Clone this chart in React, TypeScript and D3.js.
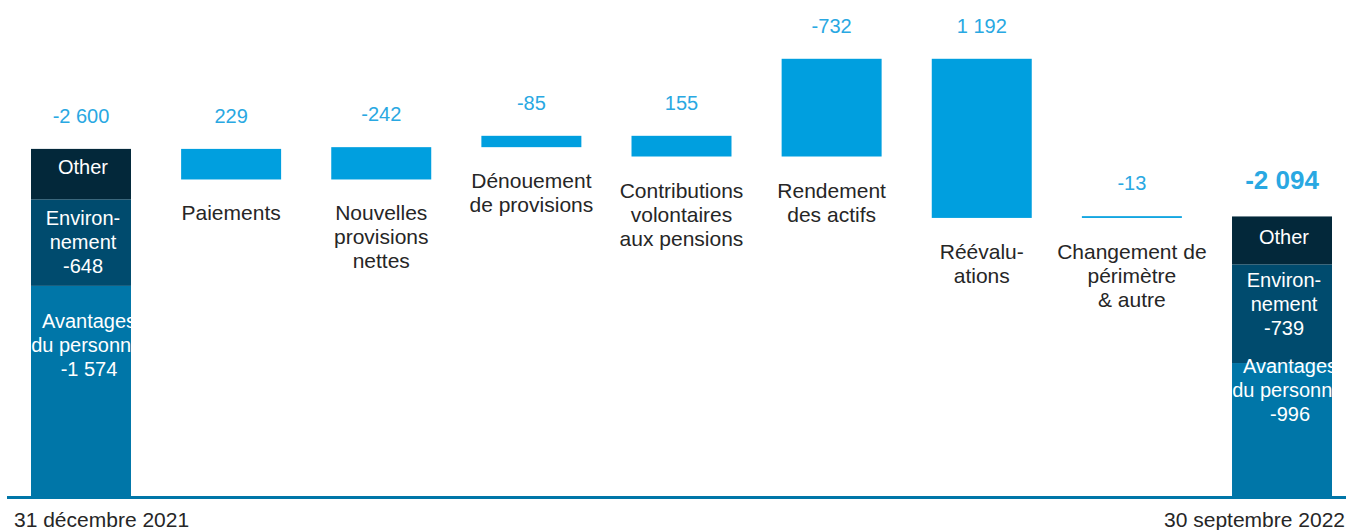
import React from "react";
import * as d3 from "d3";

const categories = [
  "31 décembre 2021",
  "Paiements",
  "Nouvelles provisions nettes",
  "Dénouement de provisions",
  "Contributions volontaires aux pensions",
  "Rendement des actifs",
  "Réévaluations",
  "Changement de périmètre & autre",
  "30 septembre 2022",
];
const categoryLines = [
  ["31 décembre 2021"],
  ["Paiements"],
  ["Nouvelles", "provisions", "nettes"],
  ["Dénouement", "de provisions"],
  ["Contributions", "volontaires", "aux pensions"],
  ["Rendement", "des actifs"],
  ["Réévalu-", "ations"],
  ["Changement de", "périmètre", "& autre"],
  ["30 septembre 2022"],
];
// stacked totals, bottom to top
const stackKeys = ["avantages", "environnement", "other"];
const stackLines = [["Avantages", "du personnel"], ["Environ-", "nement"], ["Other"]];
const startStack = [1574, 648, 378];
const endStack = [996, 739, 359];
// changes (positive reduces the liability)
const deltas = [229, -242, -85, 155, -732, 1192, -13];

const W = 1346;
const H = 530;
const FONT = "'Liberation Sans', Arial, Helvetica, sans-serif";
const C_BAR = "#009fdf";
const C_LABEL = "#29a8e2";
const C_TEXT = "#262626";
const C_STACK = ["#0076a8", "#004b6e", "#03283a"];
// text offsets inside stack segments (from segment top) for start / end bar
const insideOffsets = [
  [35, 19, 18],
  [3, 16, 21],
];
const insideDx = [8, 2, 2];

const locale = d3.formatLocale({ decimal: ",", thousands: " ", grouping: [3], currency: ["", ""], minus: "-" });
const fmt = locale.format(",d");

export default function App() {
  const x = d3.scaleBand<string>().domain(categories).range([31, 1332]).paddingInner(0.334).paddingOuter(0);
  const y = d3.scaleLinear().domain([0, 3300]).range([496, 496 - 3300 * 0.1335]);
  const bw = x.bandwidth();

  const startTotal = d3.sum(startStack);
  const endTotal = d3.sum(endStack);

  // waterfall levels
  const levels: number[] = [startTotal];
  deltas.forEach((d) => levels.push(levels[levels.length - 1] - d));

  const stackBar = (cat: string, values: number[], which: number, total: number, bold: boolean) => {
    const x0 = x(cat)!;
    let acc = 0;
    const segs = values.map((v, i) => {
      const s = { key: stackKeys[i], lo: acc, hi: acc + v, v, i };
      acc += v;
      return s;
    });
    const clipId = `clip-${which}`;
    return (
      <g key={cat}>
        <defs>
          <clipPath id={clipId}>
            <rect x={x0} y={0} width={bw} height={H} />
          </clipPath>
        </defs>
        {segs.map((s) => (
          <rect key={s.key} x={x0} y={y(s.hi)} width={bw} height={y(s.lo) - y(s.hi)} fill={C_STACK[s.i]} />
        ))}
        <g clipPath={`url(#${clipId})`}>
          {segs.map((s) => {
            const lines = s.i === 2 ? stackLines[2] : [...stackLines[s.i], fmt(-s.v)];
            const cy = y(s.hi) + insideOffsets[which][s.i];
            return (
              <text key={s.key} x={x0 + bw / 2 + insideDx[s.i]} fill="#ffffff" fontSize={20} textAnchor="middle" fontFamily={FONT}>
                {lines.map((l, j) => (
                  <tspan key={j} x={x0 + bw / 2 + insideDx[s.i]} y={cy + j * 24 + 7}>
                    {l}
                  </tspan>
                ))}
              </text>
            );
          })}
        </g>
        <text
          x={x0 + bw / 2}
          y={y(total) - (bold ? 27 : 26)}
          textAnchor="middle"
          fill={C_LABEL}
          fontSize={bold ? 26 : 20}
          fontWeight={bold ? 700 : 400}
          fontFamily={FONT}
        >
          {fmt(-total)}
        </text>
      </g>
    );
  };

  return (
    <svg width={W} height={H} style={{ position: "absolute", left: 0, top: 0, background: "#fff" }}>
      {stackBar(categories[0], startStack, 0, startTotal, false)}
      {deltas.map((d, i) => {
        const cat = categories[i + 1];
        const a = levels[i];
        const b = levels[i + 1];
        const top = y(Math.max(a, b));
        const bottom = y(Math.min(a, b));
        const x0 = x(cat)!;
        const lines = categoryLines[i + 1];
        return (
          <g key={cat}>
            <rect x={x0} y={top} width={bw} height={Math.max(bottom - top, 1.5)} fill={C_BAR} />
            <text x={x0 + bw / 2} y={top - 26} textAnchor="middle" fill={C_LABEL} fontSize={20} fontFamily={FONT}>
              {fmt(d)}
            </text>
            <text textAnchor="middle" fill={C_TEXT} fontSize={21} fontFamily={FONT}>
              {lines.map((l, j) => (
                <tspan key={j} x={x0 + bw / 2} y={bottom + 34 + j * 24 + 7}>
                  {l}
                </tspan>
              ))}
            </text>
          </g>
        );
      })}
      {stackBar(categories[8], endStack, 1, endTotal, true)}
      <line x1={7} x2={W} y1={y(0) + 1.5} y2={y(0) + 1.5} stroke="#0076a8" strokeWidth={3} />
      <text x={14} y={527} fill={C_TEXT} fontSize={21} fontFamily={FONT}>
        {categoryLines[0][0]}
      </text>
      <text x={1345} y={527} textAnchor="end" fill={C_TEXT} fontSize={21} fontFamily={FONT}>
        {categoryLines[8][0]}
      </text>
    </svg>
  );
}
